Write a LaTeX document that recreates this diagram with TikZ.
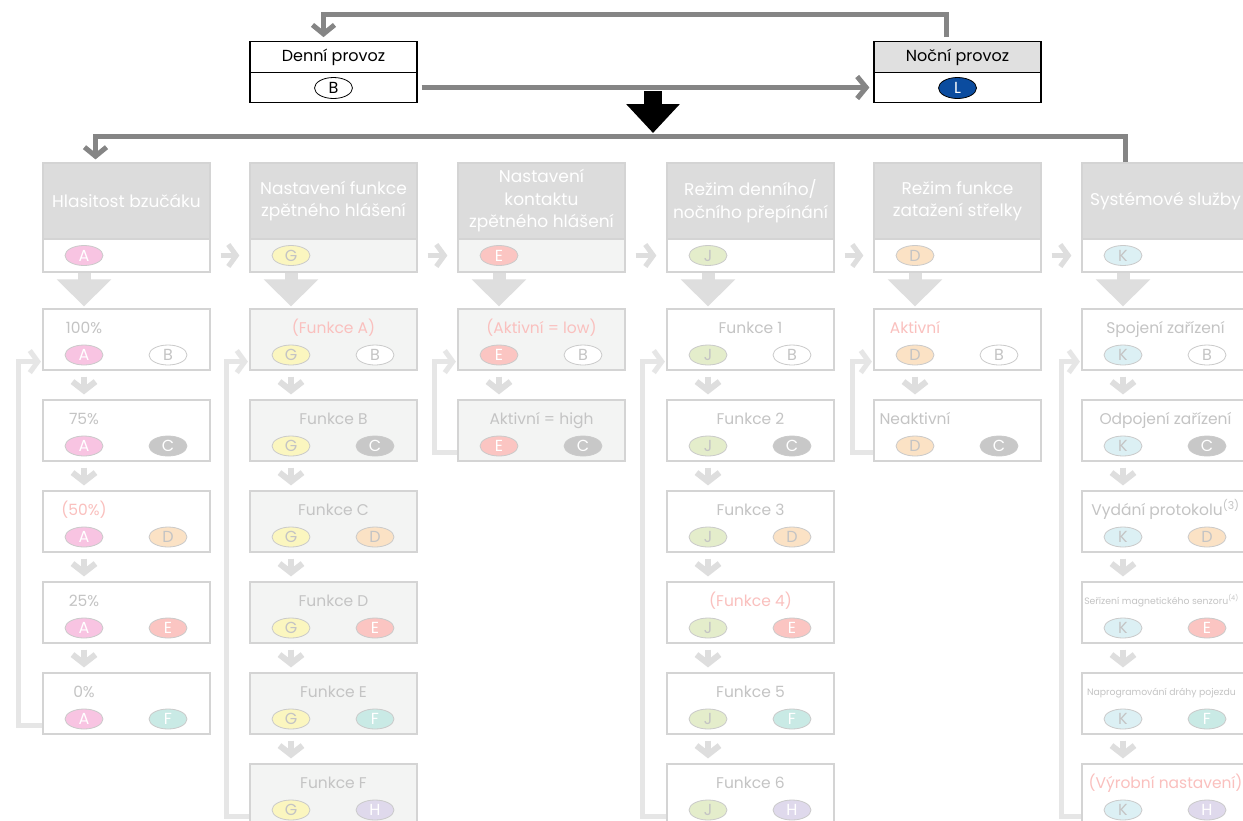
\documentclass[tikz,border=0pt]{standalone}
\usepackage{fontspec}
\setmainfont{Poppins}
\usetikzlibrary{arrows.meta, shapes.geometric}

\definecolor{hdrgray}{HTML}{DCDCDC}
\definecolor{boxline}{HTML}{D4D4D4}
\definecolor{boxfill}{HTML}{F3F4F3}
\definecolor{txtgray}{HTML}{C4C4C4}
\definecolor{arrgray}{HTML}{DEDEDE}
\definecolor{backgray}{HTML}{E6E6E6}
\definecolor{linkgray}{HTML}{858585}
\definecolor{nightgray}{HTML}{E0E0E0}
\definecolor{nightblue}{HTML}{0B4C9F}
\definecolor{rose}{HTML}{FAC0BE}
\definecolor{tagline}{HTML}{CACACA}
\definecolor{tagA}{HTML}{F8C4E2}
\definecolor{tagC}{HTML}{C8C8C8}
\definecolor{tagD}{HTML}{FBE2C5}
\definecolor{tagE}{HTML}{FBC5C2}
\definecolor{tagF}{HTML}{C9EAE5}
\definecolor{tagG}{HTML}{FBF6BF}
\definecolor{tagH}{HTML}{DFD9EC}
\definecolor{tagJ}{HTML}{E4EDCB}
\definecolor{tagK}{HTML}{DCF0F4}

\begin{document}
\begin{tikzpicture}[x = 1pt, y = -1pt,
    every node/.style = {inner sep = 0pt},
    topbox/.style = {draw, line width = 1.2pt, minimum width = 167pt,
                     minimum height = 30.5pt, font = \fontsize{16}{18}\selectfont},
    hdr/.style = {draw = boxline, line width = 1.2pt, fill = hdrgray, text = white,
                  minimum width = 167pt, minimum height = 76pt, align = center,
                  font = \fontsize{17}{22.5}\selectfont},
    sub/.style = {draw = boxline, line width = 1.2pt, fill = white,
                  minimum width = 167pt, minimum height = 33pt},
    cell/.style = {draw = boxline, line width = 1.2pt, fill = white,
                   minimum width = 167pt, minimum height = 61pt},
    lbl/.style = {text = txtgray, anchor = base, font = \fontsize{15.5}{18}\selectfont},
    tiny/.style = {lbl, font = \fontsize{9.3}{11}\selectfont},
    tag/.style = {shape = ellipse, draw = tagline, line width = 0.8pt,
                  minimum width = 38pt, minimum height = 20pt, text height = 11pt,
                  text depth = 0pt, text = txtgray, font = \fontsize{16}{16}\selectfont},
    tA/.style = {tag, fill = tagA, text = white},
    tB/.style = {tag, fill = white},
    tC/.style = {tag, fill = tagC, text = white},
    tD/.style = {tag, fill = tagD},
    tE/.style = {tag, fill = tagE, text = white},
    tF/.style = {tag, fill = tagF, text = white},
    tG/.style = {tag, fill = tagG},
    tH/.style = {tag, fill = tagH, text = white},
    tJ/.style = {tag, fill = tagJ},
    tK/.style = {tag, fill = tagK},
    topline/.style = {draw = linkgray, line width = 5pt,
                      -{Straight Barb[length = 9pt, width = 22pt]}},
    bigdown/.style = {draw = black, line width = 18pt,
                      -{Triangle[length = 29pt, width = 52pt]}},
    firstrow/.style = {draw = arrgray, line width = 13pt, shorten > = 2pt,
                       -{Triangle[length = 27pt, width = 53pt]}},
    nextrow/.style = {draw = arrgray, line width = 6pt, shorten < = 6pt, shorten > = 5pt,
                      -{Straight Barb[length = 9pt, width = 23pt]}},
    nextcol/.style = {draw = arrgray, line width = 5pt, shorten < = 10pt, shorten > = 10pt,
                      -{Straight Barb[length = 8pt, width = 22pt]}},
    back/.style = {draw = backgray, line width = 5pt, shorten > = 1.5pt,
                   -{Straight Barb[length = 8pt, width = 22pt]}}]

  \useasboundingbox (0, 0) rectangle (1243, 820);
  \clip (0, 0) rectangle (1243, 820);
  \fill[white] (0, 0) rectangle (1243, 820);

  \node[topbox] (day) at (333.5, 57) {Denní provoz};
  \node[topbox] (dayb) at (333.5, 87.5) {};
  \node[tag, draw = black, fill = white, text = black, minimum height = 21pt] (dayt) at (333.5, 88) {B};
  \node[topbox, fill = nightgray] (night) at (957.5, 57) {Noční provoz};
  \node[topbox] (nightb) at (957.5, 87.5) {};
  \node[tag, draw = black, fill = nightblue, text = white, minimum height = 21pt] (nightt) at (957.5, 88) {L};
  \draw[topline, shorten < = 4pt, shorten > = 4pt]
        ([xshift = -11.5pt] night.north) -- ++(0, -27) -| ([xshift = -10pt] day.north);
  \draw[topline, shorten < = 4pt, shorten > = 4pt] (dayb.east) -- (nightb.west);
  \coordinate (go) at (653, 91);
  \coordinate (hub) at (653, 133);
  \draw[bigdown] (go) -- (hub);

  \node[hdr] (ha) at (126.5, 201) {Hlasitost bzučáku};
  \node[sub] (sa) at (126.5, 255.5) {};
  \node[tA] (sat) at (84, 255.5) {A};
  \node[cell] (a0) at (126.5, 339.5) {};
  \node[lbl] (a0t) at (84, 333) {100\%};
  \node[tA] (a0l) at (84, 355) {A};
  \node[tB] (a0r) at (168, 355) {B};
  \node[cell] (a1) at (126.5, 430.5) {};
  \node[lbl] (a1t) at (84, 424) {75\%};
  \node[tA] (a1l) at (84, 446) {A};
  \node[tC] (a1r) at (168, 446) {C};
  \node[cell] (a2) at (126.5, 521.5) {};
  \node[lbl, text = rose] (a2t) at (84, 515) {(50\%)};
  \node[tA] (a2l) at (84, 537) {A};
  \node[tD] (a2r) at (168, 537) {D};
  \node[cell] (a3) at (126.5, 612.5) {};
  \node[lbl] (a3t) at (84, 606) {25\%};
  \node[tA] (a3l) at (84, 628) {A};
  \node[tE] (a3r) at (168, 628) {E};
  \node[cell] (a4) at (126.5, 703.5) {};
  \node[lbl] (a4t) at (84, 697) {0\%};
  \node[tA] (a4l) at (84, 719) {A};
  \node[tF] (a4r) at (168, 719) {F};

  \node[hdr] (hb) at (333.5, 201) {Nastavení funkce\\zpětného hlášení};
  \node[sub, fill = boxfill] (sb) at (333.5, 255.5) {};
  \node[tG] (sbt) at (291, 255.5) {G};
  \node[cell, fill = boxfill] (b0) at (333.5, 339.5) {};
  \node[lbl, text = rose] (b0t) at (333.5, 333) {(Funkce A)};
  \node[tG] (b0l) at (291, 355) {G};
  \node[tB] (b0r) at (375, 355) {B};
  \node[cell, fill = boxfill] (b1) at (333.5, 430.5) {};
  \node[lbl] (b1t) at (333.5, 424) {Funkce B};
  \node[tG] (b1l) at (291, 446) {G};
  \node[tC] (b1r) at (375, 446) {C};
  \node[cell, fill = boxfill] (b2) at (333.5, 521.5) {};
  \node[lbl] (b2t) at (333.5, 515) {Funkce C};
  \node[tG] (b2l) at (291, 537) {G};
  \node[tD] (b2r) at (375, 537) {D};
  \node[cell, fill = boxfill] (b3) at (333.5, 612.5) {};
  \node[lbl] (b3t) at (333.5, 606) {Funkce D};
  \node[tG] (b3l) at (291, 628) {G};
  \node[tE] (b3r) at (375, 628) {E};
  \node[cell, fill = boxfill] (b4) at (333.5, 703.5) {};
  \node[lbl] (b4t) at (333.5, 697) {Funkce E};
  \node[tG] (b4l) at (291, 719) {G};
  \node[tF] (b4r) at (375, 719) {F};
  \node[cell, fill = boxfill] (b5) at (333.5, 794.5) {};
  \node[lbl] (b5t) at (333.5, 788) {Funkce F};
  \node[tG] (b5l) at (291, 810) {G};
  \node[tH] (b5r) at (375, 810) {H};

  \node[hdr] (hc) at (541.5, 201) {Nastavení\\kontaktu\\zpětného hlášení};
  \node[sub, fill = boxfill] (sc) at (541.5, 255.5) {};
  \node[tE] (sct) at (499, 255.5) {E};
  \node[cell, fill = boxfill] (c0) at (541.5, 339.5) {};
  \node[lbl, text = rose] (c0t) at (541.5, 333) {(Aktivní = low)};
  \node[tE] (c0l) at (499, 355) {E};
  \node[tB] (c0r) at (583, 355) {B};
  \node[cell, fill = boxfill] (c1) at (541.5, 430.5) {};
  \node[lbl] (c1t) at (541.5, 424) {Aktivní = high};
  \node[tE] (c1l) at (499, 446) {E};
  \node[tC] (c1r) at (583, 446) {C};

  \node[hdr] (hd) at (750.5, 201) {Režim denního/\\nočního přepínání};
  \node[sub] (sd) at (750.5, 255.5) {};
  \node[tJ] (sdt) at (708, 255.5) {J};
  \node[cell] (d0) at (750.5, 339.5) {};
  \node[lbl] (d0t) at (750.5, 333) {Funkce 1};
  \node[tJ] (d0l) at (708, 355) {J};
  \node[tB] (d0r) at (792, 355) {B};
  \node[cell] (d1) at (750.5, 430.5) {};
  \node[lbl] (d1t) at (750.5, 424) {Funkce 2};
  \node[tJ] (d1l) at (708, 446) {J};
  \node[tC] (d1r) at (792, 446) {C};
  \node[cell] (d2) at (750.5, 521.5) {};
  \node[lbl] (d2t) at (750.5, 515) {Funkce 3};
  \node[tJ] (d2l) at (708, 537) {J};
  \node[tD] (d2r) at (792, 537) {D};
  \node[cell] (d3) at (750.5, 612.5) {};
  \node[lbl, text = rose] (d3t) at (750.5, 606) {(Funkce 4)};
  \node[tJ] (d3l) at (708, 628) {J};
  \node[tE] (d3r) at (792, 628) {E};
  \node[cell] (d4) at (750.5, 703.5) {};
  \node[lbl] (d4t) at (750.5, 697) {Funkce 5};
  \node[tJ] (d4l) at (708, 719) {J};
  \node[tF] (d4r) at (792, 719) {F};
  \node[cell] (d5) at (750.5, 794.5) {};
  \node[lbl] (d5t) at (750.5, 788) {Funkce 6};
  \node[tJ] (d5l) at (708, 810) {J};
  \node[tH] (d5r) at (792, 810) {H};

  \node[hdr] (he) at (957.5, 201) {Režim funkce\\zatažení střelky};
  \node[sub] (se) at (957.5, 255.5) {};
  \node[tD] (set) at (915, 255.5) {D};
  \node[cell] (e0) at (957.5, 339.5) {};
  \node[lbl, text = rose] (e0t) at (915, 333) {Aktivní};
  \node[tD] (e0l) at (915, 355) {D};
  \node[tB] (e0r) at (999, 355) {B};
  \node[cell] (e1) at (957.5, 430.5) {};
  \node[lbl] (e1t) at (915, 424) {Neaktivní};
  \node[tD] (e1l) at (915, 446) {D};
  \node[tC] (e1r) at (999, 446) {C};

  \node[hdr] (hf) at (1165.5, 201) {Systémové služby};
  \node[sub] (sf) at (1165.5, 255.5) {};
  \node[tK] (sft) at (1123, 255.5) {K};
  \node[cell] (f0) at (1165.5, 339.5) {};
  \node[lbl] (f0t) at (1165.5, 333) {Spojení zařízení};
  \node[tK] (f0l) at (1123, 355) {K};
  \node[tB] (f0r) at (1207, 355) {B};
  \node[cell] (f1) at (1165.5, 430.5) {};
  \node[lbl] (f1t) at (1165.5, 424) {Odpojení zařízení};
  \node[tK] (f1l) at (1123, 446) {K};
  \node[tC] (f1r) at (1207, 446) {C};
  \node[cell] (f2) at (1165.5, 521.5) {};
  \node[lbl] (f2t) at (1165.5, 515) {Vydání protokolu\textsuperscript{(3)}};
  \node[tK] (f2l) at (1123, 537) {K};
  \node[tD] (f2r) at (1207, 537) {D};
  \node[cell] (f3) at (1165.5, 612.5) {};
  \node[tiny] (f3t) at (1161.5, 604) {Seřízení magnetického senzoru\textsuperscript{(4)}};
  \node[tK] (f3l) at (1123, 628) {K};
  \node[tE] (f3r) at (1207, 628) {E};
  \node[cell] (f4) at (1165.5, 703.5) {};
  \node[tiny] (f4t) at (1161.5, 695) {Naprogramování dráhy pojezdu};
  \node[tK] (f4l) at (1123, 719) {K};
  \node[tF] (f4r) at (1207, 719) {F};
  \node[cell] (f5) at (1165.5, 794.5) {};
  \node[lbl, text = rose] (f5t) at (1165.5, 788) {(Výrobní nastavení)};
  \node[tK] (f5l) at (1123, 810) {K};
  \node[tH] (f5r) at (1207, 810) {H};

  \draw[topline, shorten > = 3pt]
        ([xshift = -40pt] hf.north) -- ++(0, -25.5) -| ([xshift = -31pt] ha.north);

  \draw[nextcol] (sa.east) -- (sb.west);
  \draw[nextcol] (sb.east) -- (sc.west);
  \draw[nextcol] (sc.east) -- (sd.west);
  \draw[nextcol] (sd.east) -- (se.west);
  \draw[nextcol] (se.east) -- (sf.west);

  \draw[firstrow] (sa.south -| sat) -- (a0.north -| a0l);
  \draw[firstrow] (sb.south -| sbt) -- (b0.north -| b0l);
  \draw[firstrow] (sc.south -| sct) -- (c0.north -| c0l);
  \draw[firstrow] (sd.south -| sdt) -- (d0.north -| d0l);
  \draw[firstrow] (se.south -| set) -- (e0.north -| e0l);
  \draw[firstrow] (sf.south -| sft) -- (f0.north -| f0l);

  \draw[nextrow] (a0.south -| a0l) -- (a1.north -| a1l);
  \draw[nextrow] (a1.south -| a1l) -- (a2.north -| a2l);
  \draw[nextrow] (a2.south -| a2l) -- (a3.north -| a3l);
  \draw[nextrow] (a3.south -| a3l) -- (a4.north -| a4l);
  \draw[nextrow] (b0.south -| b0l) -- (b1.north -| b1l);
  \draw[nextrow] (b1.south -| b1l) -- (b2.north -| b2l);
  \draw[nextrow] (b2.south -| b2l) -- (b3.north -| b3l);
  \draw[nextrow] (b3.south -| b3l) -- (b4.north -| b4l);
  \draw[nextrow] (b4.south -| b4l) -- (b5.north -| b5l);
  \draw[nextrow] (c0.south -| c0l) -- (c1.north -| c1l);
  \draw[nextrow] (d0.south -| d0l) -- (d1.north -| d1l);
  \draw[nextrow] (d1.south -| d1l) -- (d2.north -| d2l);
  \draw[nextrow] (d2.south -| d2l) -- (d3.north -| d3l);
  \draw[nextrow] (d3.south -| d3l) -- (d4.north -| d4l);
  \draw[nextrow] (d4.south -| d4l) -- (d5.north -| d5l);
  \draw[nextrow] (e0.south -| e0l) -- (e1.north -| e1l);
  \draw[nextrow] (f0.south -| f0l) -- (f1.north -| f1l);
  \draw[nextrow] (f1.south -| f1l) -- (f2.north -| f2l);
  \draw[nextrow] (f2.south -| f2l) -- (f3.north -| f3l);
  \draw[nextrow] (f3.south -| f3l) -- (f4.north -| f4l);
  \draw[nextrow] (f4.south -| f4l) -- (f5.north -| f5l);

  \draw[back] ([yshift = 9pt] a4.south west) -- ++(-24, 0) |- ([yshift = 9pt] a0.south west);
  \draw[back] ([yshift = 9pt] b5.south west) -- ++(-23, 0) |- ([yshift = 9pt] b0.south west);
  \draw[back] ([yshift = 9pt] c1.south west) -- ++(-23, 0) |- ([yshift = 9pt] c0.south west);
  \draw[back] ([yshift = 9pt] d5.south west) -- ++(-24, 0) |- ([yshift = 9pt] d0.south west);
  \draw[back] ([yshift = 9pt] e1.south west) -- ++(-21, 0) |- ([yshift = 9pt] e0.south west);
  \draw[back] ([yshift = 9pt] f5.south west) -- ++(-20, 0) |- ([yshift = 9pt] f0.south west);
\end{tikzpicture}
\end{document}
